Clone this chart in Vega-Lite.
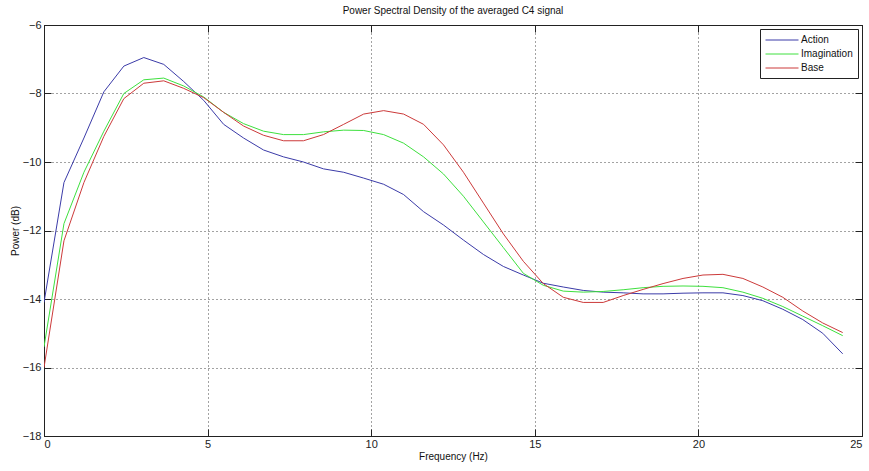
{
  "$schema": "https://vega.github.io/schema/vega-lite/v6.json",
  "autosize": "none",
  "width": 818,
  "height": 411,
  "padding": {"left": 44, "top": 25, "right": 7, "bottom": 35},
  "background": "white",
  "config": {
    "font": "Liberation Sans",
    "view": {"stroke": "#222", "strokeWidth": 1},
    "axis": {"labelFont": "Liberation Sans", "titleFont": "Liberation Sans"}
  },
  "title": {
    "text": "Power Spectral Density of the averaged C4 signal",
    "fontSize": 10,
    "fontWeight": "normal",
    "color": "#111",
    "anchor": "middle",
    "offset": 3
  },
  "datasets": {
    "psd": [
      {"f": 0.00, "s": "Action", "p": -14.1}, {"f": 0.00, "s": "Imagination", "p": -15.4}, {"f": 0.00, "s": "Base", "p": -16.0},
      {"f": 0.61, "s": "Action", "p": -10.6}, {"f": 0.61, "s": "Imagination", "p": -11.8}, {"f": 0.61, "s": "Base", "p": -12.3},
      {"f": 1.22, "s": "Action", "p": -9.3}, {"f": 1.22, "s": "Imagination", "p": -10.3}, {"f": 1.22, "s": "Base", "p": -10.6},
      {"f": 1.83, "s": "Action", "p": -7.95}, {"f": 1.83, "s": "Imagination", "p": -9.1}, {"f": 1.83, "s": "Base", "p": -9.25},
      {"f": 2.44, "s": "Action", "p": -7.2}, {"f": 2.44, "s": "Imagination", "p": -8.0}, {"f": 2.44, "s": "Base", "p": -8.15},
      {"f": 3.05, "s": "Action", "p": -6.95}, {"f": 3.05, "s": "Imagination", "p": -7.6}, {"f": 3.05, "s": "Base", "p": -7.7},
      {"f": 3.66, "s": "Action", "p": -7.15}, {"f": 3.66, "s": "Imagination", "p": -7.55}, {"f": 3.66, "s": "Base", "p": -7.63},
      {"f": 4.27, "s": "Action", "p": -7.65}, {"f": 4.27, "s": "Imagination", "p": -7.78}, {"f": 4.27, "s": "Base", "p": -7.85},
      {"f": 4.88, "s": "Action", "p": -8.2}, {"f": 4.88, "s": "Imagination", "p": -8.1}, {"f": 4.88, "s": "Base", "p": -8.12},
      {"f": 5.49, "s": "Action", "p": -8.9}, {"f": 5.49, "s": "Imagination", "p": -8.55}, {"f": 5.49, "s": "Base", "p": -8.55},
      {"f": 6.10, "s": "Action", "p": -9.3}, {"f": 6.10, "s": "Imagination", "p": -8.88}, {"f": 6.10, "s": "Base", "p": -8.95},
      {"f": 6.71, "s": "Action", "p": -9.65}, {"f": 6.71, "s": "Imagination", "p": -9.1}, {"f": 6.71, "s": "Base", "p": -9.22},
      {"f": 7.32, "s": "Action", "p": -9.85}, {"f": 7.32, "s": "Imagination", "p": -9.2}, {"f": 7.32, "s": "Base", "p": -9.38},
      {"f": 7.93, "s": "Action", "p": -10.0}, {"f": 7.93, "s": "Imagination", "p": -9.2}, {"f": 7.93, "s": "Base", "p": -9.38},
      {"f": 8.54, "s": "Action", "p": -10.2}, {"f": 8.54, "s": "Imagination", "p": -9.12}, {"f": 8.54, "s": "Base", "p": -9.2},
      {"f": 9.16, "s": "Action", "p": -10.3}, {"f": 9.16, "s": "Imagination", "p": -9.07}, {"f": 9.16, "s": "Base", "p": -8.9},
      {"f": 9.77, "s": "Action", "p": -10.47}, {"f": 9.77, "s": "Imagination", "p": -9.08}, {"f": 9.77, "s": "Base", "p": -8.6},
      {"f": 10.38, "s": "Action", "p": -10.65}, {"f": 10.38, "s": "Imagination", "p": -9.2}, {"f": 10.38, "s": "Base", "p": -8.5},
      {"f": 10.99, "s": "Action", "p": -10.95}, {"f": 10.99, "s": "Imagination", "p": -9.45}, {"f": 10.99, "s": "Base", "p": -8.6},
      {"f": 11.60, "s": "Action", "p": -11.45}, {"f": 11.60, "s": "Imagination", "p": -9.85}, {"f": 11.60, "s": "Base", "p": -8.9},
      {"f": 12.21, "s": "Action", "p": -11.84}, {"f": 12.21, "s": "Imagination", "p": -10.35}, {"f": 12.21, "s": "Base", "p": -9.5},
      {"f": 12.82, "s": "Action", "p": -12.28}, {"f": 12.82, "s": "Imagination", "p": -11.0}, {"f": 12.82, "s": "Base", "p": -10.3},
      {"f": 13.43, "s": "Action", "p": -12.7}, {"f": 13.43, "s": "Imagination", "p": -11.75}, {"f": 13.43, "s": "Base", "p": -11.2},
      {"f": 14.04, "s": "Action", "p": -13.05}, {"f": 14.04, "s": "Imagination", "p": -12.5}, {"f": 14.04, "s": "Base", "p": -12.1},
      {"f": 14.65, "s": "Action", "p": -13.3}, {"f": 14.65, "s": "Imagination", "p": -13.25}, {"f": 14.65, "s": "Base", "p": -12.9},
      {"f": 15.26, "s": "Action", "p": -13.54}, {"f": 15.26, "s": "Imagination", "p": -13.6}, {"f": 15.26, "s": "Base", "p": -13.55},
      {"f": 15.87, "s": "Action", "p": -13.65}, {"f": 15.87, "s": "Imagination", "p": -13.77}, {"f": 15.87, "s": "Base", "p": -13.95},
      {"f": 16.48, "s": "Action", "p": -13.75}, {"f": 16.48, "s": "Imagination", "p": -13.8}, {"f": 16.48, "s": "Base", "p": -14.1},
      {"f": 17.09, "s": "Action", "p": -13.8}, {"f": 17.09, "s": "Imagination", "p": -13.78}, {"f": 17.09, "s": "Base", "p": -14.1},
      {"f": 17.70, "s": "Action", "p": -13.82}, {"f": 17.70, "s": "Imagination", "p": -13.73}, {"f": 17.70, "s": "Base", "p": -13.9},
      {"f": 18.31, "s": "Action", "p": -13.85}, {"f": 18.31, "s": "Imagination", "p": -13.67}, {"f": 18.31, "s": "Base", "p": -13.72},
      {"f": 18.92, "s": "Action", "p": -13.85}, {"f": 18.92, "s": "Imagination", "p": -13.63}, {"f": 18.92, "s": "Base", "p": -13.55},
      {"f": 19.53, "s": "Action", "p": -13.83}, {"f": 19.53, "s": "Imagination", "p": -13.62}, {"f": 19.53, "s": "Base", "p": -13.4},
      {"f": 20.14, "s": "Action", "p": -13.82}, {"f": 20.14, "s": "Imagination", "p": -13.63}, {"f": 20.14, "s": "Base", "p": -13.3},
      {"f": 20.75, "s": "Action", "p": -13.82}, {"f": 20.75, "s": "Imagination", "p": -13.67}, {"f": 20.75, "s": "Base", "p": -13.28},
      {"f": 21.36, "s": "Action", "p": -13.9}, {"f": 21.36, "s": "Imagination", "p": -13.8}, {"f": 21.36, "s": "Base", "p": -13.4},
      {"f": 21.97, "s": "Action", "p": -14.05}, {"f": 21.97, "s": "Imagination", "p": -13.98}, {"f": 21.97, "s": "Base", "p": -13.65},
      {"f": 22.58, "s": "Action", "p": -14.3}, {"f": 22.58, "s": "Imagination", "p": -14.22}, {"f": 22.58, "s": "Base", "p": -13.95},
      {"f": 23.19, "s": "Action", "p": -14.6}, {"f": 23.19, "s": "Imagination", "p": -14.5}, {"f": 23.19, "s": "Base", "p": -14.35},
      {"f": 23.80, "s": "Action", "p": -15.0}, {"f": 23.80, "s": "Imagination", "p": -14.78}, {"f": 23.80, "s": "Base", "p": -14.7},
      {"f": 24.41, "s": "Action", "p": -15.6}, {"f": 24.41, "s": "Imagination", "p": -15.07}, {"f": 24.41, "s": "Base", "p": -14.98}
    ]
  },
  "data": {"name": "psd"},
  "resolve": {"axis": {"x": "independent", "y": "independent"}},
  "layer": [
    {
      "mark": {"type": "line", "strokeWidth": 1, "clip": true},
      "encoding": {
        "x": {
          "field": "f", "type": "quantitative",
          "scale": {"domain": [0, 25], "nice": false, "zero": false},
          "axis": {
            "orient": "bottom",
            "title": "Frequency (Hz)",
            "titleFontSize": 10, "titleFontWeight": "normal", "titleColor": "#111",
            "titlePadding": 2,
            "values": [0, 5, 10, 15, 20, 25],
            "labelFontSize": 11, "labelColor": "#222",
            "labelPadding": 9,
            "tickSize": -7, "tickColor": "#222",
            "domainColor": "#222",
            "grid": true, "gridDash": [1, 3], "gridColor": "#333", "gridOpacity": 0.9
          }
        },
        "y": {
          "field": "p", "type": "quantitative",
          "scale": {"domain": [-18, -6], "nice": false, "zero": false},
          "axis": {
            "orient": "left",
            "title": "Power (dB)",
            "titleFontSize": 10, "titleFontWeight": "normal", "titleColor": "#111",
            "titlePadding": 2,
            "values": [-18, -16, -14, -12, -10, -8, -6],
            "labelFontSize": 11, "labelColor": "#222",
            "labelPadding": 10,
            "tickSize": -7, "tickColor": "#222",
            "domainColor": "#222",
            "grid": true, "gridDash": [1, 3], "gridColor": "#333", "gridOpacity": 0.9
          }
        },
        "color": {
          "field": "s", "type": "nominal",
          "scale": {"domain": ["Action", "Imagination", "Base"], "range": ["#3b3ba8", "#3ee03e", "#cc3a3a"]},
          "legend": {
            "title": null,
            "orient": "top-right",
            "offset": 4,
            "symbolType": "M-1,0H5",
            "symbolSize": 121,
            "symbolStrokeWidth": 1,
            "symbolFillColor": "transparent",
            "labelFontSize": 10,
            "labelColor": "#111",
            "labelOffset": 24,
            "rowPadding": 3,
            "padding": 5,
            "fillColor": "white",
            "strokeColor": "#222"
          }
        }
      }
    },
    {
      "mark": {"type": "line", "strokeOpacity": 0},
      "encoding": {
        "x": {
          "field": "f", "type": "quantitative",
          "axis": {
            "orient": "top", "title": null, "labels": false,
            "values": [0, 5, 10, 15, 20, 25],
            "tickSize": -7, "tickColor": "#222", "domainColor": "#222", "grid": false
          }
        },
        "y": {
          "field": "p", "type": "quantitative",
          "axis": {
            "orient": "right", "title": null, "labels": false,
            "values": [-18, -16, -14, -12, -10, -8, -6],
            "tickSize": -7, "tickColor": "#222", "domainColor": "#222", "grid": false
          }
        },
        "detail": {"field": "s"}
      }
    }
  ]
}
